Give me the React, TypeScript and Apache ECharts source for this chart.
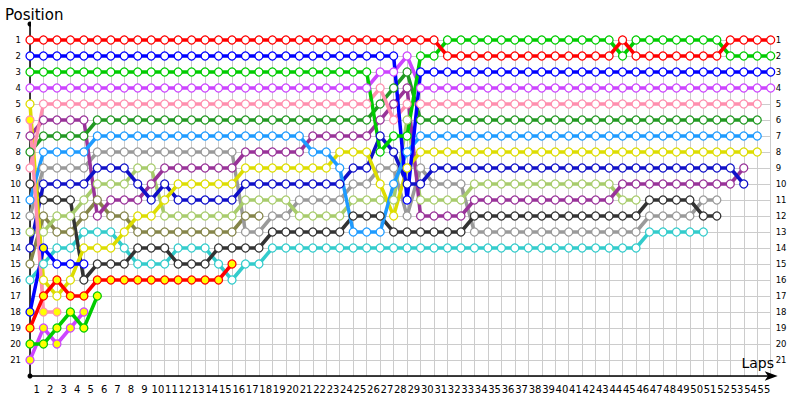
import React, { useEffect, useRef } from "react";
import * as echarts from "echarts";

const N = null;
const lapLabels = Array.from({ length: 55 }, (_, i) => String(i + 1));
const posLabels = ["1","2","3","4","5","6","7","8","9","10","11","12","13","14","15","16","17","18","19","20","21"];

const redA = [1,1,1,1,1,1,1,1,1,1, 1,1,1,1,1,1,1,1,1,1, 1,1,1,1,1,1,1,1,1,1, 1,2,2,2,2,2,2,2,2,2, 2,2,2,2,1,2,2,2,2,2, 2,2,1,1,1,1];
const greenA = [3,3,3,3,3,3,3,3,3,3, 3,3,3,3,3,3,3,3,3,3, 3,3,3,3,3,3,8,7,7,2, 2,1,1,1,1,1,1,1,1,1, 1,1,1,1,2,1,1,1,1,1, 1,1,2,2,2,2];
const blueA = [2,2,2,2,2,2,2,2,2,2, 2,2,2,2,2,2,2,2,2,2, 2,2,2,2,2,2,2,2,11,3, 3,3,3,3,3,3,3,3,3,3, 3,3,3,3,3,3,3,3,3,3, 3,3,3,3,3,3];
const violetA = [4,4,4,4,4,4,4,4,4,4, 4,4,4,4,4,4,4,4,4,4, 4,4,4,4,4,4,3,3,2,4, 4,4,4,4,4,4,4,4,4,4, 4,4,4,4,4,4,4,4,4,4, 4,4,4,4,4,4];
const pinkA = [9,5,5,5,5,5,5,5,5,5, 5,5,5,5,5,5,5,5,5,5, 5,5,5,5,5,5,4,6,5,5, 5,5,5,5,5,5,5,5,5,5, 5,5,5,5,5,5,5,5,5,5, 5,5,5,5,5,N];
const darkGreenA = [8,7,7,7,7,6,6,6,6,6, 6,6,6,6,6,6,6,6,6,6, 6,6,6,6,6,6,5,4,3,6, 6,6,6,6,6,6,6,6,6,6, 6,6,6,6,6,6,6,6,6,6, 6,6,6,6,6,N];
const lightBlueA = [11,8,8,8,8,7,7,7,7,7, 7,7,7,7,7,7,7,7,7,7, 7,8,8,9,13,13,13,10,8,7, 7,7,7,7,7,7,7,7,7,7, 7,7,7,7,7,7,7,7,7,7, 7,7,7,7,7,N];
const yellowA = [5,16,17,16,14,14,14,13,12,12, 11,10,10,10,10,10,9,9,9,9, 9,9,9,8,8,8,10,12,9,8, 8,8,8,8,8,8,8,8,8,8, 8,8,8,8,8,8,8,8,8,8, 8,8,8,8,8,N];
const navyA = [14,10,10,10,10,9,9,9,10,11, 10,11,11,11,11,11,10,10,10,10, 10,10,10,10,9,9,7,8,10,10, 9,9,9,9,9,9,9,9,9,9, 9,9,9,9,9,9,9,9,9,9, 9,9,9,10,N,N];
const purpleA = [7,6,6,6,6,12,11,11,11,10, 9,9,9,9,9,9,8,8,8,8, 8,7,7,7,7,7,6,5,4,12, 12,12,12,11,11,11,11,11,11,11, 11,11,11,11,10,10,10,10,10,10, 10,10,10,9,N,N];
const lightGreenA = [13,13,12,12,11,10,10,10,9,9, 12,12,12,12,12,12,11,11,11,11, 12,12,12,12,11,11,11,11,6,11, 11,11,11,10,10,10,10,10,10,10, 10,10,10,10,11,11,N,N,N,N, N,N,N,N,N,N];
const blackA = [10,11,11,11,16,15,15,15,14,14, 14,15,15,15,14,14,14,14,13,13, 13,13,13,13,12,12,12,13,13,13, 13,13,13,12,12,12,12,12,12,12, 12,12,12,12,12,12,11,11,11,11, 12,12,N,N,N,N];
const greyA = [12,9,9,9,9,8,8,8,8,8, 8,8,8,8,8,8,13,13,12,12, 11,11,11,11,10,10,9,9,12,9, 10,10,10,13,13,13,13,13,13,13, 13,13,13,13,13,13,12,12,12,12, 11,11,N,N,N,N];
const cyanA = [16,15,14,14,13,13,13,14,15,15, 15,14,14,14,15,16,15,15,14,14, 14,14,14,14,14,14,14,14,14,14, 14,14,14,14,14,14,14,14,14,14, 14,14,14,14,14,14,13,13,13,13, 13,N,N,N,N,N];
const olive = [15,12,13,13,12,11,12,12,13,13, 13,13,13,13,13,13,12,12];
const redB = [19,17,16,17,17,16,16,16,16,16, 16,16,16,16,16,15];
const greenB = [20,20,19,18,19,17];
const violetB = [21,19,20,19,18];
const pinkB = [6,18,18];
const blueB = [18,14,15,15,15];

const blueBFilled = [0, 1];

type Driver = { pos: (number | null)[]; color: string; filled: "all" | number[] };
const drivers: Driver[] = [
  { pos: olive, color: "#85854a", filled: [] },
  { pos: cyanA, color: "#33cccc", filled: [] },
  { pos: greyA, color: "#9a9a9a", filled: [] },
  { pos: blackA, color: "#333333", filled: [] },
  { pos: lightGreenA, color: "#a8cc6c", filled: [] },
  { pos: purpleA, color: "#993399", filled: [] },
  { pos: navyA, color: "#1010c8", filled: [] },
  { pos: yellowA, color: "#dddd00", filled: [] },
  { pos: lightBlueA, color: "#1e9bff", filled: [] },
  { pos: darkGreenA, color: "#229922", filled: [] },
  { pos: pinkA, color: "#ff8fae", filled: [] },
  { pos: violetA, color: "#cc44ff", filled: [] },
  { pos: blueA, color: "#0000ff", filled: [] },
  { pos: greenA, color: "#00cc00", filled: [] },
  { pos: redA, color: "#ff0000", filled: [] },
  { pos: blueB, color: "#0000ff", filled: blueBFilled },
  { pos: pinkB, color: "#ff8fae", filled: "all" },
  { pos: violetB, color: "#cc44ff", filled: "all" },
  { pos: greenB, color: "#00cc00", filled: "all" },
  { pos: redB, color: "#ff0000", filled: "all" },
];

const splitColors = ["rgba(0,0,0,0)"].concat(Array.from({ length: 22 }, () => "#cccccc"));
const labelFmt = (v: number) => (v >= 1 && v <= 21 ? posLabels[v - 1] : "");

export default function App() {
  const ref = useRef<HTMLDivElement>(null);
  useEffect(() => {
    if (!ref.current) return;
    const chart = echarts.init(ref.current, undefined, { renderer: "svg" });
    const series = drivers.map((d) => ({
      type: "line",
      xAxisIndex: 0,
      yAxisIndex: 0,
      symbol: "circle",
      symbolSize: 8,
      showSymbol: true,
      z: 3,
      lineStyle: { color: d.color, width: 3.5 },
      itemStyle: { color: "#ffffff", borderColor: d.color, borderWidth: 1.3 },
      emphasis: { disabled: true },
      data: d.pos
        .map((p, i) => {
          if (p == null) return null;
          const fill = d.filled === "all" || (d.filled as number[]).includes(i);
          return fill ? { value: [i, p], itemStyle: { color: "#ffff00" } } : { value: [i, p] };
        })
        .filter((x) => x !== null),
    }));
    chart.setOption({
      animation: false,
      grid: { left: 30, right: 29.3, top: 24, bottom: 24, containLabel: false },
      xAxis: [
        {
          type: "value", min: 0, max: 55, interval: 1,
          axisLine: { show: true, onZero: false, lineStyle: { color: "#000", width: 1.5 }, symbol: ["none", "arrow"], symbolSize: [7, 13], symbolOffset: [0, 7] },
          axisTick: { show: false }, axisLabel: { show: false },
          splitLine: { show: true, lineStyle: { color: "#cccccc", width: 1 } },
        },
        {
          type: "category", data: lapLabels, boundaryGap: true, position: "bottom",
          axisLine: { show: false }, axisTick: { show: false }, splitLine: { show: false },
          axisLabel: { interval: 0, fontSize: 10, color: "#000", fontFamily: "DejaVu Sans", margin: 8 },
        },
      ],
      yAxis: [
        {
          type: "value", min: 0, max: 22, interval: 1, inverse: true,
          axisLine: { show: true, onZero: false, lineStyle: { color: "#000", width: 1.5 }, symbol: ["circle", "circle"], symbolSize: [5, 5] },
          axisTick: { show: false },
          axisLabel: { formatter: labelFmt, fontSize: 8.5, color: "#000", margin: 9, fontFamily: "DejaVu Sans" },
          splitLine: { show: true, lineStyle: { color: splitColors, width: 1 } },
        },
        {
          type: "value", min: 0, max: 22, interval: 1, inverse: true, position: "right",
          axisLine: { show: false, onZero: false }, axisTick: { show: false },
          axisLabel: { formatter: labelFmt, fontSize: 8.5, color: "#000", margin: 5, fontFamily: "DejaVu Sans" },
          splitLine: { show: false },
        },
      ],
      graphic: [
        { type: "rect", z: 1, shape: { x: 31, y: 18, width: 742, height: 17.5 }, style: { fill: "#ffffff" } },
        { type: "text", z: 5, x: 5, y: 7, style: { text: "Position", font: "15px 'DejaVu Sans'", fill: "#000" } },
        { type: "text", z: 5, x: 774, y: 356, style: { text: "Laps", font: "14px 'DejaVu Sans'", fill: "#000", textAlign: "right" } },
      ],
      series,
    });
    return () => chart.dispose();
  }, []);
  return <div ref={ref} style={{ width: 800, height: 400, position: "absolute", left: 0, top: 0 }} />;
}
